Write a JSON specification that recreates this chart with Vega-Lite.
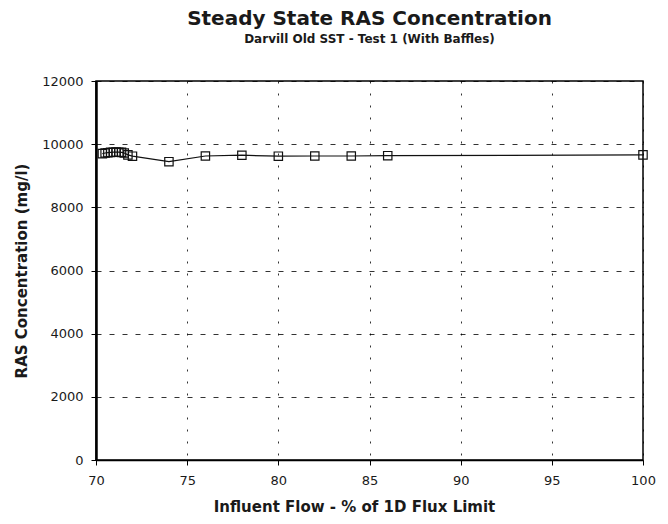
{
  "$schema": "https://vega.github.io/schema/vega-lite/v6.json",
  "width": 547,
  "height": 379,
  "autosize": {"type": "none"},
  "padding": {"left": 96, "top": 81, "right": 25, "bottom": 64},
  "background": "white",
  "title": {
    "text": "Steady State RAS Concentration",
    "subtitle": "Darvill Old SST - Test 1 (With Baffles)",
    "anchor": "middle",
    "font": "DejaVu Sans",
    "fontSize": 20,
    "fontWeight": "bold",
    "color": "#1a1a1a",
    "subtitleFont": "DejaVu Sans",
    "subtitleFontSize": 12,
    "subtitleFontWeight": "bold",
    "subtitleColor": "#1a1a1a",
    "subtitlePadding": 5,
    "offset": 30
  },
  "config": {
    "view": {"stroke": "#000", "strokeWidth": 1.5},
    "axis": {
      "labelFont": "DejaVu Sans",
      "labelFontSize": 13,
      "labelColor": "#1a1a1a",
      "titleFont": "DejaVu Sans",
      "titleFontSize": 15,
      "titleFontWeight": "bold",
      "titleColor": "#1a1a1a",
      "domainColor": "#000",
      "tickColor": "#000",
      "gridColor": "#000",
      "gridOpacity": 0.8
    }
  },
  "data": {
    "values": [
      {"flow": 70.35, "ras": 9700},
      {"flow": 70.5, "ras": 9720},
      {"flow": 70.65, "ras": 9730},
      {"flow": 70.8, "ras": 9740},
      {"flow": 70.95, "ras": 9745},
      {"flow": 71.1, "ras": 9750},
      {"flow": 71.25, "ras": 9745},
      {"flow": 71.4, "ras": 9740},
      {"flow": 71.55, "ras": 9720},
      {"flow": 71.75, "ras": 9660},
      {"flow": 72, "ras": 9620},
      {"flow": 74, "ras": 9445},
      {"flow": 76, "ras": 9625},
      {"flow": 78, "ras": 9650},
      {"flow": 80, "ras": 9620},
      {"flow": 82, "ras": 9625},
      {"flow": 84, "ras": 9625},
      {"flow": 86, "ras": 9635},
      {"flow": 100, "ras": 9660}
    ]
  },
  "mark": {
    "type": "line",
    "color": "#111",
    "strokeWidth": 1.2,
    "point": {"shape": "square", "filled": false, "stroke": "#111", "strokeWidth": 1.2, "size": 70, "fill": "white", "fillOpacity": 0}
  },
  "encoding": {
    "x": {
      "field": "flow",
      "type": "quantitative",
      "scale": {"domain": [70, 100], "nice": false},
      "axis": {
        "values": [70, 75, 80, 85, 90, 95, 100],
        "format": "d",
        "labelFlush": false,
        "title": "Influent Flow - % of 1D Flux Limit",
        "titleX": 258,
        "titlePadding": 12,
        "labelPadding": 9,
        "tickSize": 5,
        "grid": true,
        "gridDash": [2, 10],
        "domainWidth": 1.5
      }
    },
    "y": {
      "field": "ras",
      "type": "quantitative",
      "scale": {"domain": [0, 12000], "nice": false},
      "axis": {
        "values": [0, 2000, 4000, 6000, 8000, 10000, 12000],
        "format": "d",
        "labelFlush": false,
        "title": "RAS Concentration (mg/l)",
        "titlePadding": 12,
        "labelPadding": 8,
        "tickSize": 5,
        "grid": true,
        "gridDash": [5, 8],
        "domainWidth": 2.5
      }
    }
  }
}
